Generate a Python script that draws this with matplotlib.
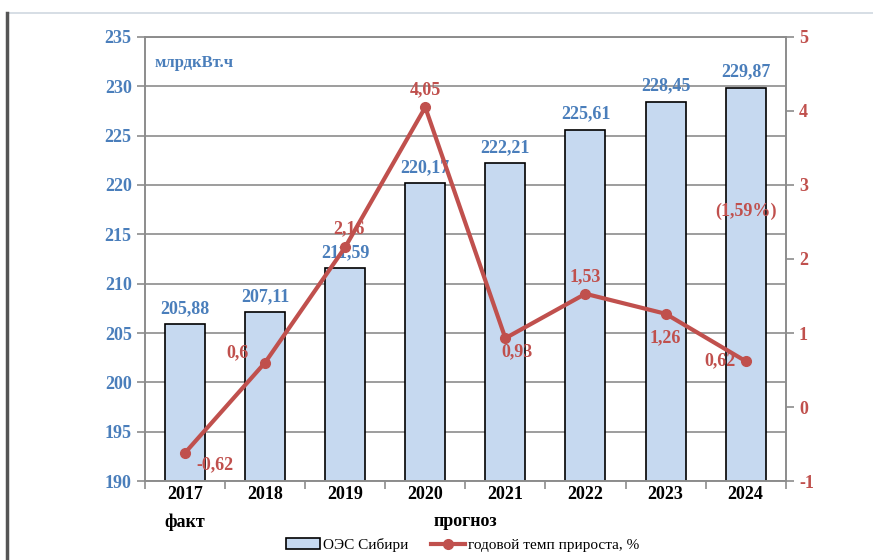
import matplotlib.pyplot as plt
from matplotlib.lines import Line2D
from matplotlib.patches import Patch
import numpy as np

years = ['2017', '2018', '2019', '2020', '2021', '2022', '2023', '2024']
consumption = [205.88, 207.11, 211.59, 220.17, 222.21, 225.61, 228.45, 229.87]
growth = [-0.62, 0.6, 2.16, 4.05, 0.93, 1.53, 1.26, 0.62]
bar_labels = ['205,88', '207,11', '211,59', '220,17', '222,21', '225,61', '228,45', '229,87']
growth_labels = ['-0,62', '0,6', '2,16', '4,05', '0,93', '1,53', '1,26', '0,62']
# смещения подписей линии (в пикселях)
growth_offsets = [(30, -12), (-28, 10), (4, 18), (0, 18), (12, -14), (0, 17), (0, -24), (-26, 0)]

blue = '#4a7ebb'
red = '#c0504d'
bar_fill = '#c6d9f0'

plt.rcParams['font.family'] = ['Liberation Serif', 'DejaVu Serif']
plt.rcParams['axes.unicode_minus'] = False

fig = plt.figure(figsize=(8.73, 5.6), dpi=100)
ax = fig.add_axes([0.166, 0.141, 0.734, 0.793])
x = np.arange(len(years))

ax.bar(x, consumption, width=0.5, color=bar_fill, edgecolor='black', linewidth=1.2, zorder=2)
ax.set_ylim(190, 235)
ax.set_xlim(-0.5, 7.5)
ax.set_yticks(np.arange(190, 236, 5))
ax.yaxis.grid(True, color='#8c8c8c', linewidth=1.2, zorder=0)
ax.set_axisbelow(True)
ax.tick_params(axis='y', colors='#8c8c8c', labelcolor=blue, labelsize=13, length=6, width=1.2)
for lbl in ax.get_yticklabels():
    lbl.set_fontweight('bold')

ax.set_xticks(np.arange(-0.5, 8, 1))
ax.set_xticklabels([])
ax.tick_params(axis='x', colors='#8c8c8c', length=6, width=1.2)
for i, y in enumerate(years):
    ax.text(i, -0.012, y, transform=ax.get_xaxis_transform(), ha='center', va='top',
            fontsize=13, fontweight='bold', color='black')
ax.text(0, -0.072, 'факт', transform=ax.get_xaxis_transform(), ha='center', va='top',
        fontsize=13, fontweight='bold', color='black')
ax.text(3.5, -0.072, 'прогноз', transform=ax.get_xaxis_transform(), ha='center', va='top',
        fontsize=13, fontweight='bold', color='black')

for s in ax.spines.values():
    s.set_color('#8c8c8c')
    s.set_linewidth(1.2)

for i, v in enumerate(consumption):
    ax.annotate(bar_labels[i], (i, v), xytext=(0, 5), textcoords='offset points',
                ha='center', va='bottom', color=blue, fontsize=13, fontweight='bold', zorder=5)

ax.text(0.015, 0.96, 'млрдкВт.ч', transform=ax.transAxes, ha='left', va='top',
        color=blue, fontsize=12, fontweight='bold')

ax2 = ax.twinx()
ax2.set_ylim(-1, 5)
ax2.set_yticks(np.arange(-1, 6, 1))
ax2.plot(x, growth, color=red, linewidth=3, marker='o', markersize=7, zorder=4)
ax2.tick_params(axis='y', colors='#8c8c8c', labelcolor=red, labelsize=13, length=6, width=1.2)
for lbl in ax2.get_yticklabels():
    lbl.set_fontweight('bold')
for s in ax2.spines.values():
    s.set_color('#8c8c8c')
    s.set_linewidth(1.2)

for i, v in enumerate(growth):
    dx, dy = growth_offsets[i]
    ax2.annotate(growth_labels[i], (i, v), xytext=(dx, dy), textcoords='offset pixels',
                 ha='center', va='center', color=red, fontsize=13, fontweight='bold', zorder=6)
ax2.text(7, 2.65, '(1,59%)', ha='center', va='center', color=red, fontsize=13, fontweight='bold')

handles = [Patch(facecolor=bar_fill, edgecolor='black', linewidth=1.2),
           Line2D([0], [0], color=red, linewidth=3, marker='o', markersize=7)]
fig.legend(handles, ['ОЭС Сибири', 'годовой темп прироста, %'], loc='center',
           bbox_to_anchor=(0.53, 0.027), ncol=2, frameon=False, fontsize=11,
           handlelength=2.2, handletextpad=0.2, columnspacing=1.5)

# рамка документа
fig.add_artist(Line2D([0.008, 1.0], [0.977, 0.977], color='#d0d8e0', linewidth=1.2))
fig.add_artist(Line2D([0.008, 0.008], [0.0, 0.977], color='#555555', linewidth=2.5))

fig.savefig('out.png', dpi=100)
